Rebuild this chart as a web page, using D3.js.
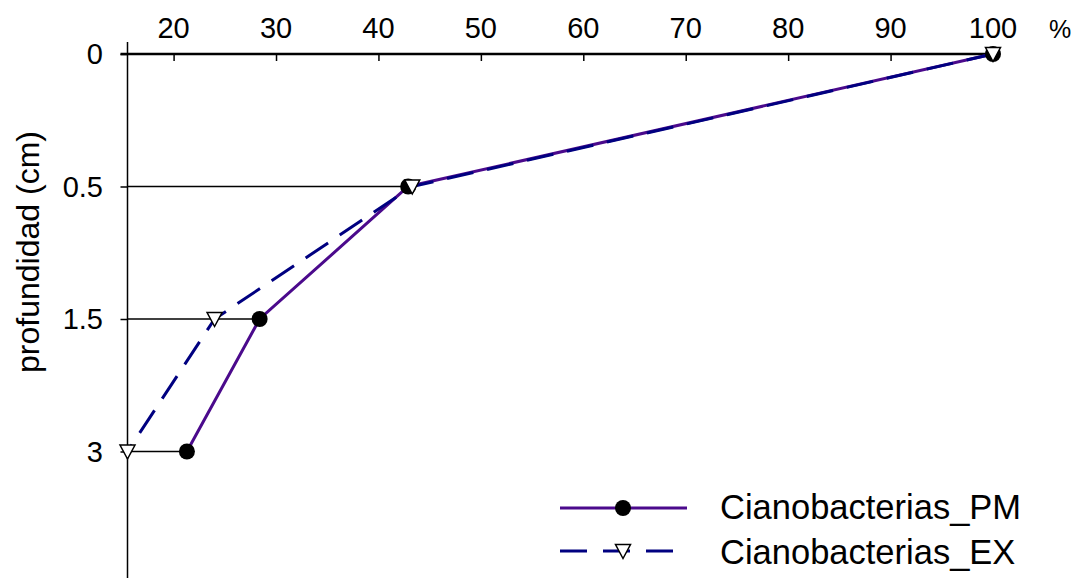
<!DOCTYPE html>
<html><head><meta charset="utf-8">
<script src="https://cdn.jsdelivr.net/npm/d3@7"></script>
<style>body{margin:0;background:#fff}svg{display:block;font-family:"Liberation Sans",Arial,sans-serif}</style>
</head><body><svg id="c" width="1075" height="578"></svg>
<script>
const depths = ["0", "0.5", "1.5", "3", ""];
const seriesNames = ["Cianobacterias_PM", "Cianobacterias_EX"];
const pmValues = [100, 42.9, 28.4, 21.3];
const exValues = [100, 43.3, 24.0, 15.5];
const xTicks = [20, 30, 40, 50, 60, 70, 80, 90, 100];

const svg = d3.select("#c");
const x = d3.scaleLinear().domain([15.5, 100]).range([127.5, 993]);
const y = d3.scaleLinear().domain([0, 4]).range([54, 584]);

// drop lines to PM values
svg.append("g").selectAll("line").data(pmValues.slice(1)).join("line")
  .attr("x1", x(15.5)).attr("x2", d => x(d))
  .attr("y1", (d,i) => y(i+1)).attr("y2", (d,i) => y(i+1))
  .attr("stroke", "#000").attr("stroke-width", 1.5);

// x axis (top)
const xa = svg.append("g").attr("transform", `translate(0,${y(0)})`)
  .call(d3.axisBottom(x).tickValues(xTicks).tickSize(7).tickSizeOuter(0).tickFormat(""));
xa.select(".domain").attr("stroke-width", 2.5).attr("d", `M${x(15.5)-7},0H${x(100)}`);
xa.selectAll(".tick line").attr("stroke-width", 1.5);
svg.append("g").selectAll("text").data(xTicks).join("text")
  .attr("x", d => x(d)).attr("y", 38).attr("text-anchor", "middle")
  .attr("font-size", 29).text(d => d);
svg.append("text").attr("x", 1060).attr("y", 38).attr("text-anchor", "middle")
  .attr("font-size", 25).text("%");

// y axis
const ya = svg.append("g").attr("transform", `translate(${x(15.5)},0)`)
  .call(d3.axisLeft(y).tickValues([0,1,2,3]).tickSize(7).tickSizeOuter(0).tickFormat(""));
ya.select(".domain").attr("stroke-width", 1.5).attr("d", `M0,42V578`);
ya.selectAll(".tick line").attr("stroke-width", 1.5);
svg.append("g").selectAll("text").data(depths.slice(0,4)).join("text")
  .attr("x", 103).attr("y", (d,i) => y(i)).attr("dy", "0.36em").attr("text-anchor", "end")
  .attr("font-size", 29).text(d => d);
svg.append("text").attr("transform", "translate(39,252) rotate(-90)")
  .attr("text-anchor", "middle").attr("font-size", 32).text("profundidad (cm)");

const line = d3.line().x(d => x(d[0])).y(d => y(d[1]));
const pmPts = pmValues.map((v,i) => [v,i]);
const exPts = exValues.map((v,i) => [v,i]);
const pmColor = "#4b0a8c", exColor = "#000080";
const tri = "M-7.5,-6.5L7.5,-6.5L0,7.5Z";

svg.append("path").datum(pmPts).attr("d", line).attr("fill", "none")
  .attr("stroke", pmColor).attr("stroke-width", 3);
svg.append("path").datum(exPts).attr("d", line).attr("fill", "none")
  .attr("stroke", exColor).attr("stroke-width", 3).attr("stroke-dasharray", "27,14");
svg.append("g").selectAll("circle").data(pmPts).join("circle")
  .attr("cx", d => x(d[0])).attr("cy", d => y(d[1])).attr("r", 8).attr("fill", "#000");
svg.append("g").selectAll("path").data(exPts).join("path")
  .attr("transform", d => `translate(${x(d[0])},${y(d[1])})`).attr("d", tri)
  .attr("fill", "#fff").attr("stroke", "#000").attr("stroke-width", 1.5);

// legend
const lg = svg.append("g");
lg.append("line").attr("x1", 560).attr("x2", 687).attr("y1", 508).attr("y2", 508)
  .attr("stroke", pmColor).attr("stroke-width", 3);
lg.append("circle").attr("cx", 623).attr("cy", 508).attr("r", 8).attr("fill", "#000");
lg.append("line").attr("x1", 560).attr("x2", 687).attr("y1", 551).attr("y2", 551)
  .attr("stroke", exColor).attr("stroke-width", 3).attr("stroke-dasharray", "27,16");
lg.append("path").attr("transform", "translate(623,551)").attr("d", tri)
  .attr("fill", "#fff").attr("stroke", "#000").attr("stroke-width", 1.5);
lg.selectAll("text").data(seriesNames).join("text")
  .attr("x", 720).attr("y", (d,i) => 519 + i*45)
  .attr("font-size", 34.5).text(d => d);
</script></body></html>
